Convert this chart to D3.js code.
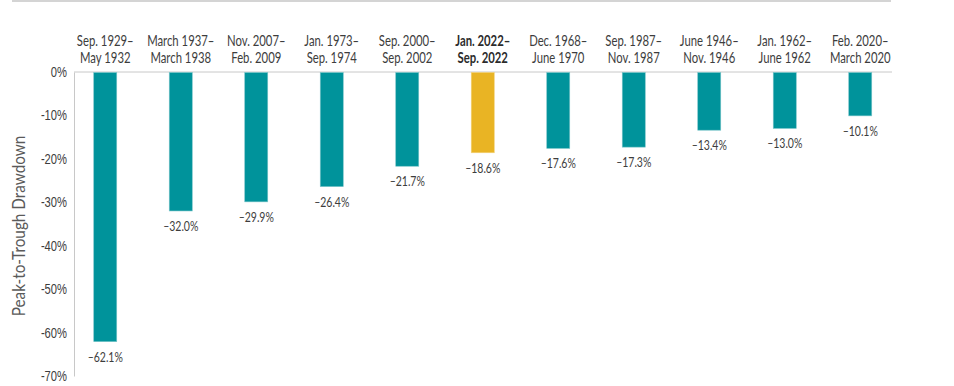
<!DOCTYPE html>
<html>
<head>
<meta charset="utf-8">
<script src="https://cdn.jsdelivr.net/npm/d3@7"></script>
<style>
  body { margin: 0; background: #fff; }
  svg { display: block; font-family: "Lato", "Open Sans", sans-serif; }
</style>
</head>
<body>
<div id="chart"></div>
<script>
// periods, first and second label line
const startLabels = ['Sep. 1929–', 'March 1937–', 'Nov. 2007–', 'Jan. 1973–', 'Sep. 2000–',
  'Jan. 2022–', 'Dec. 1968–', 'Sep. 1987–', 'June 1946–', 'Jan. 1962–', 'Feb. 2020–'];
const endLabels = ['May 1932', 'March 1938', 'Feb. 2009', 'Sep. 1974', 'Sep. 2002',
  'Sep. 2022', 'June 1970', 'Nov. 1987', 'Nov. 1946', 'June 1962', 'March 2020'];
const drawdowns = [-62.1, -32.0, -29.9, -26.4, -21.7, -18.6, -17.6, -17.3, -13.4, -13.0, -10.1];
const highlightIndex = 5;
const yTicks = [0, -10, -20, -30, -40, -50, -60, -70];

const width = 954, height = 386;
const teal = '#00939b', gold = '#e9b424';
const squeeze = 0.78; // the original uses a condensed face

const svg = d3.select('#chart')
  .append('svg')
  .attr('width', width)
  .attr('height', height);

const data = drawdowns.map((v, i) => ({i: i, value: v, start: startLabels[i], end: endLabels[i]}));

const x = d3.scaleBand()
  .domain(data.map(d => d.i))
  .range([67.5, 898])
  .paddingInner(0.695)
  .paddingOuter(0.3475);

const y = d3.scaleLinear()
  .domain([0, -70])
  .range([72, 376]);

const cx = d => x(d.i) + x.bandwidth() / 2;

// top rule
svg.append('line')
  .attr('x1', 12).attr('x2', 891)
  .attr('y1', 1).attr('y2', 1)
  .attr('stroke', '#d4d4d4')
  .attr('stroke-width', 2);

// y axis
const yAxis = svg.append('g')
  .attr('transform', 'translate(74,0)')
  .call(d3.axisLeft(y).tickValues(yTicks).tickSize(0).tickPadding(8)
    .tickFormat(d => (d < 0 ? '-' + Math.abs(d) : d) + '%'));
yAxis.select('.domain').attr('stroke', '#c8c8c8');
yAxis.selectAll('text')
  .attr('x', null)
  .attr('transform', `translate(-7,0) scale(0.8,1)`)
  .attr('fill', '#3d3d3d')
  .style('font-size', '14px')
  .style('font-family', null);

// zero line
svg.append('line')
  .attr('x1', 74).attr('x2', 892)
  .attr('y1', y(0)).attr('y2', y(0))
  .attr('stroke', '#c8c8c8');

// axis title
svg.append('text')
  .attr('transform', `translate(25,${(y(-10) + y(-60)) / 2 + 2}) rotate(-90) scale(0.9,1)`)
  .attr('text-anchor', 'middle')
  .attr('fill', '#5a5a5a')
  .style('font-size', '17px')
  .text('Peak-to-Trough Drawdown');

// bars
svg.append('g')
  .selectAll('rect')
  .data(data)
  .join('rect')
  .attr('x', d => x(d.i))
  .attr('y', y(0) + 0.5)
  .attr('width', x.bandwidth())
  .attr('height', d => y(d.value) - y(0) - 0.5)
  .attr('fill', d => d.i === highlightIndex ? gold : teal)
  .attr('stroke', d => d.i === highlightIndex ? '#f3d27a' : '#7cc6ca')
  .attr('stroke-width', 0.6);

// value labels
svg.append('g')
  .selectAll('text')
  .data(data)
  .join('text')
  .attr('transform', d => `translate(${cx(d)},${y(d.value) + 20}) scale(0.75,1)`)
  .attr('text-anchor', 'middle')
  .attr('fill', '#3d3d3d')
  .style('font-size', '14px')
  .text(d => '–' + Math.abs(d.value).toFixed(1) + '%');

// category labels, two lines each
const catGroup = svg.append('g');
[[startLabels, 46], [endLabels, 63]].forEach(([labels, baseline]) => {
  catGroup.append('g')
    .selectAll('text')
    .data(data)
    .join('text')
    .attr('transform', d => `translate(${cx(d)},${baseline}) scale(${squeeze},1)`)
    .attr('text-anchor', 'middle')
    .attr('fill', d => d.i === highlightIndex ? '#2b2b2b' : '#3d3d3d')
    .style('font-weight', d => d.i === highlightIndex ? 'bold' : null)
    .style('font-size', '14.5px')
    .text(d => labels[d.i]);
});
</script>
</body>
</html>
